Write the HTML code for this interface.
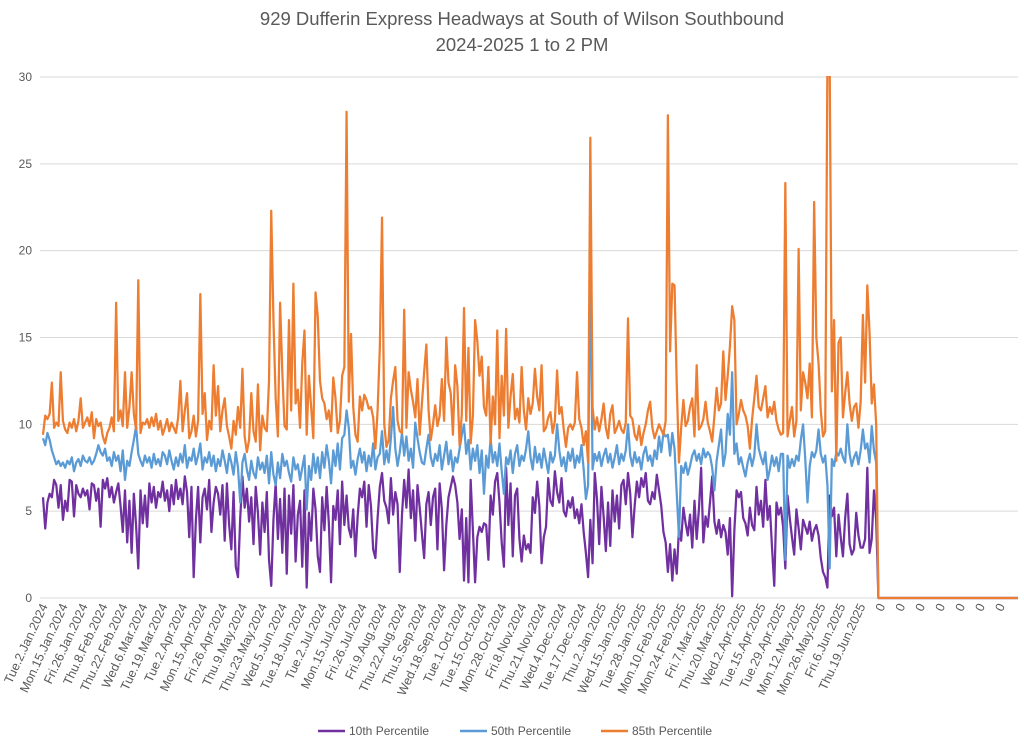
<!DOCTYPE html>
<html><head><meta charset="utf-8"><title>929 Dufferin Express Headways</title>
<style>
html,body{margin:0;padding:0;background:#fff;}
svg{display:block;font-family:"Liberation Sans",sans-serif;}
</style></head>
<body>
<svg id="chart" width="1024" height="746" viewBox="0 0 1024 746">
<text x="522" y="25" text-anchor="middle" font-size="18.5" fill="#595959">929 Dufferin Express Headways at South of Wilson Southbound</text>
<text x="522" y="51" text-anchor="middle" font-size="18.5" fill="#595959">2024-2025 1 to 2 PM</text>
<defs><clipPath id="plotclip"><rect x="40" y="76" width="985" height="530"/></clipPath></defs>
<g id="grid"></g>
<g id="yaxis"></g>
<g id="xaxis"></g>
<g id="series" clip-path="url(#plotclip)"></g>
<g>
  <g><line x1="318" y1="731" x2="345" y2="731" stroke="#7030a0" stroke-width="2.5"/><text x="349" y="735" font-size="12" fill="#595959">10th Percentile</text></g>
  <g><line x1="460" y1="731" x2="487" y2="731" stroke="#5b9bd5" stroke-width="2.5"/><text x="491" y="735" font-size="12" fill="#595959">50th Percentile</text></g>
  <g><line x1="601" y1="731" x2="628" y2="731" stroke="#ed7d31" stroke-width="2.5"/><text x="632" y="735" font-size="12" fill="#595959">85th Percentile</text></g>
</g>
</svg>
<script>
const tickLabels = ["Tue.2.Jan.2024","Mon.15.Jan.2024","Fri.26.Jan.2024","Thu.8.Feb.2024","Thu.22.Feb.2024","Wed.6.Mar.2024","Tue.19.Mar.2024","Tue.2.Apr.2024","Mon.15.Apr.2024","Fri.26.Apr.2024","Thu.9.May.2024","Thu.23.May.2024","Wed.5.Jun.2024","Tue.18.Jun.2024","Tue.2.Jul.2024","Mon.15.Jul.2024","Fri.26.Jul.2024","Fri.9.Aug.2024","Thu.22.Aug.2024","Thu.5.Sep.2024","Wed.18.Sep.2024","Tue.1.Oct.2024","Tue.15.Oct.2024","Mon.28.Oct.2024","Fri.8.Nov.2024","Thu.21.Nov.2024","Wed.4.Dec.2024","Tue.17.Dec.2024","Thu.2.Jan.2025","Wed.15.Jan.2025","Tue.28.Jan.2025","Mon.10.Feb.2025","Mon.24.Feb.2025","Fri.7.Mar.2025","Thu.20.Mar.2025","Wed.2.Apr.2025","Tue.15.Apr.2025","Tue.29.Apr.2025","Mon.12.May.2025","Mon.26.May.2025","Fri.6.Jun.2025","Thu.19.Jun.2025","0","0","0","0","0","0","0"];
const yTicks = [0,5,10,15,20,25,30];
const tailZeros = [0,0,0,0,0,0,0,0,0,0,0,0,0,0,0,0,0,0,0,0,0,0,0,0,0,0,0,0,0,0,0,0,0,0,0,0,0,0,0,0,0,0,0,0,0,0,0,0,0,0,0,0,0,0,0,0,0,0,0,0,0,0,0,0];
const p85Days = [
9.4,10.5,10.3,10.6,12.4,9.8,10.1,9.9,13,10.2,
9.7,9.5,10.1,9.8,10.3,9.6,10.2,11.5,9.8,10.1,
10.4,9.9,10.7,9.2,10.3,9.9,10.1,9.3,8.9,9.5,
9.8,10.4,9.6,17,10.2,10.8,9.9,13,9.8,11,
13,10.6,9.7,18.3,9.5,10.1,10,10.3,9.8,10.4,
9.9,10.6,9.7,10.2,9.4,9.8,10.3,9.6,10.1,9.8,
9.5,10.4,12.5,9.6,10.8,11.8,9.2,9.6,10.5,9.3,
10.2,17.5,10.6,11.8,9.1,10.2,9.7,13.4,10.5,12.2,
9.6,10.8,11.5,9.9,9.3,8.6,10.2,9.4,11,9.8,
13.2,9.3,8.4,9.1,11.8,9.6,9,12.3,8.5,10.5,
9.8,9.6,12.5,22.3,16,11.5,9.3,17,13,9.9,
9.7,16,10.8,18.1,11.2,12,9.8,13.5,15.4,9.4,
12.8,11,9.2,17.6,16.2,12.5,11.5,11.2,10.3,10.8,
9.6,12.7,11.5,9.5,10.2,12.8,13.3,28,11.3,15.2,
11,9.4,9,11.6,10.8,11.7,11.4,10.9,11,10.4,
8.6,10.8,14.4,21.9,10,8.7,9.1,11.5,12.5,13.3,
10.2,9.6,9.5,16.6,9.8,13,12,11.3,10.4,12.6,
9.4,11.2,13,14.6,10.8,9.1,10,11.1,9.9,10.5,
12.6,10.2,15,12.4,11.8,9.4,13.4,12.2,8.8,10.6,
16.7,10.2,14.4,8.9,10.5,16,14.8,12.8,13.9,11,
10.5,13.3,8.9,11.6,10,15.4,9.2,12.8,10.5,15.5,
9.8,11.6,12.9,10.3,10.9,10.1,13.3,10.8,9.7,11.5,
10.6,11.2,13.2,11.6,10.8,13.4,9.6,9.8,10.4,10.7,
9.5,10.2,13.1,10.6,11,9.7,8.7,9.8,10,9.7,
10.1,13,10.3,9.8,8.8,9.6,7.8,26.5,11,9.7,
10.4,9.6,10.3,11.2,9.8,9.2,10.6,11.1,9.5,9.8,
10.2,9.7,9.5,10.1,16.1,10.5,10.3,9.4,9.1,9.9,
8.8,9.5,10,10.8,11.3,9.8,9.2,9.6,10,9.7,
9.4,10.2,27.8,14.2,18.1,18,12.3,7.8,9.8,11.4,
9.9,10.2,11,11.5,9.3,13.4,9.7,9.9,10.3,11.3,
10.1,9.6,9,10.5,12.1,10.8,11.2,14.2,11.4,12.8,
14.5,16.8,16,10,10.6,11.4,10.8,10.5,9.9,8.6,
10.3,11.5,12.8,11,10.8,11.5,12.2,10.4,11,10.6,
11.3,10.2,9.7,9.4,9.5,23.9,9.3,10.2,11,9.3,
10.2,20.1,10.8,13,12.4,11.5,13.5,10.4,22.8,15,
13.5,10.8,9.3,9.6,31,31,11.9,16,7.9,14.7,
15,10.4,11.8,13,11.2,10.2,11,11.2,9.8,11.3,
16.3,12.4,18,15.3,11.2,12.3,10];
const p50Days = [
9.2,8.8,9.5,9.1,8.5,8.1,7.7,7.9,7.6,7.8,
7.5,7.9,7.7,8.1,7.3,7.8,8,7.6,8.2,7.9,
7.8,8.1,7.7,7.9,8.3,8.8,8.4,8.2,8.6,7.9,
8.1,7.6,8.4,7.9,8.2,7.3,8.5,6.8,7.9,7.6,
8.4,9.1,9.9,8.3,7.9,7.6,8.2,7.8,8.1,7.5,
8.3,7.7,8,7.6,8.4,8.2,7.7,8.5,7.9,7.4,
8.1,7.6,8.3,7.8,8.8,7.5,8.1,7.9,8.6,7.7,
8.2,8.9,7.4,8.1,7.8,8.4,7.6,8.2,7.3,8,
7.6,8.5,7.9,7.2,8.3,7.8,7.1,8.4,7.5,5.5,
7.8,8.3,7.4,6.8,7.9,7.2,6.9,8.1,7.4,7.8,
7.2,8.2,6.6,8.4,7.1,6.5,7.8,6.9,8.3,7.6,
7.9,7.2,6.7,8.1,7.4,7.7,6.8,7.5,8.2,5.1,
7.6,6.8,8.3,7.2,8.1,6.9,8.4,7.5,8.8,7.9,
6.6,8.5,7.6,8.9,7.4,9.2,9.4,10.8,9.8,7.5,
7.9,7.1,8,8.6,7.8,8.4,7.3,8.2,7.6,8.9,
7.4,8.1,8.3,9.6,7.7,8.5,7.8,9.2,11,8.6,
7.6,8.4,9.5,8.2,9.3,7.9,8.6,7.5,10.1,9.2,
8.4,7.8,7.7,8.6,9.4,8.1,7.6,8.3,7.9,8.8,
7.4,8.2,9,7.7,8.5,7.3,8.1,7.8,8.6,9.4,
10,8.3,9.1,7.4,8.6,7.9,8.8,7.2,8.5,6,
8.2,7.5,9.2,7.8,8.4,7.6,8.9,7.3,6,8.1,
7.7,8.5,7.2,8.3,8.8,7.6,8.2,7.9,8.6,9.6,
8.1,7.4,8.7,7.8,8.3,7.5,8.6,7.9,7.2,8.4,
7.8,8.2,10,8.5,7.6,8.1,7.3,8.4,7.9,8.6,
7.5,8.2,7.8,8.8,7.4,5.7,6.5,20,7.4,8.3,
7.9,8.4,7.6,8.2,8.6,7.8,8.3,7.5,8.1,8.8,
7.7,8.3,7.9,8.5,10,8.2,7.6,8.4,7.8,8.1,
7.4,8.3,8.7,7.9,8.2,7.6,8.5,8,9.3,8.4,
9.5,9.3,9.4,8.2,9.5,8.6,6,3.5,7.6,7.2,
7.8,7.1,7.6,8.2,8.5,7.9,8.3,7.7,8.6,8.1,
8.4,8.2,7.5,6.2,7.9,8.8,9.7,7.6,8.3,10.6,
9.4,13,8.3,8.9,7.7,8.1,7.5,7,7.8,8.3,
7.6,8.2,10,8.6,8.1,7.7,8.4,6.8,7.4,8.2,
7.6,8.1,7.3,8.3,8.3,2.2,8.2,7.5,8,7.6,
8.2,7.9,9.1,10,8,5.5,7.6,8.4,8.1,8.5,
9.7,8.3,7.8,8.2,6.5,1.7,8,7.6,8.4,8.2,
8.6,8.1,7.8,10,8.3,7.6,8.1,8.4,7.7,8.5,
9.7,8.6,8.9,7.8,9.9,8.5,7.8];
const p10Days = [
5.8,4,5.5,6,5.8,6.8,6.5,5.2,6.5,4.5,
5.6,5,6.8,6.7,4.7,6.5,6,5.8,6.3,5.9,
6.2,5.1,6.6,6.5,5.6,6.3,4.1,6.8,6.3,6.9,
5.8,6.4,5.5,6.1,6.6,5.3,3.8,6.2,3.2,5.6,
2.6,6,4.2,1.7,6.2,4.3,5.9,4.1,6.6,5.5,
6.4,5.2,6.1,5.8,6.7,5.6,6.2,5,6.5,5.4,
6.8,5.7,6.3,5.4,7,6.1,3.5,6.4,1.2,4.5,
6.4,3.2,5.8,6.3,5.1,6.8,3.8,5.5,6.4,6,
4.8,6.5,3.3,6.6,4.2,2.8,6.1,1.8,1.2,4.6,
7,5.2,6.3,4.4,5.8,3.1,6.4,4.9,2.5,5.5,
3.8,6.1,2.2,0.7,4.5,6.6,3.4,5.7,2.6,6.3,
1.4,5.9,3.7,6.5,2.1,4.8,5.6,1.8,6.2,0.6,
4.9,3.3,6.3,5.1,2.4,1.5,5.8,3.9,6.4,4.3,
0.9,5.3,4.5,6.2,3.1,6.7,4.2,5.9,4,3.5,
5.1,2.4,4.7,6.3,5.8,6.7,4.1,6.5,5.3,2.8,
2.3,4.6,6.4,7.2,5.6,5.2,4.3,6.9,4.8,6.1,
5.4,1.5,4.8,6.8,5.2,7.4,4.6,6.2,3.3,6.5,
5.2,3.7,2.3,5.4,6.1,4.2,5.8,6.3,2.8,6.6,
5.1,1.6,4.2,5.8,6.4,7,6.5,5.5,3.4,5.1,
1,4.6,0.9,6.8,3.9,0.9,3.5,4.1,3.8,4.3,
4.2,2.2,5.9,4.8,6.7,7.2,5.5,3.2,1.8,7.5,
4.2,6.6,2.4,5.9,6.3,3.4,2.1,3.6,2.8,3.1,
2.6,5.8,4.9,6.7,5.3,2,3.5,4.1,6.9,5.6,
5.3,7.3,6.1,5.5,6.9,5,4.7,5.6,5.2,5.8,
4.6,5.1,4.3,5.4,3.8,2.6,1.2,4.5,2,7.2,
5.7,3.1,6.4,4.7,2.7,5.5,3,6.2,4.4,5.9,
4,6.5,6.8,5.4,7.2,6,3.5,5.3,6.7,5.8,
6.9,6.4,7.2,5.6,5.4,6.1,5.7,7.1,6.2,5.3,
3.8,3.2,1.5,3.1,1,2.8,1.4,4,3.3,5.2,
4.3,3.6,4.8,2.9,5.6,3.4,5.1,7.5,3.2,4.7,
4.1,5.5,7,4.4,3.7,4.5,3.5,4.2,3.8,2.5,
4.6,0.1,3.9,6.2,5.8,6.1,4.6,4.3,3.6,5.2,
4.2,3.9,6.4,4.8,5.6,4.1,6.8,4.5,5.3,2.9,
0.7,5.5,4.8,5.2,4.1,1.7,5.9,4.6,3.5,2.5,
5.1,4,2.8,4.5,4.1,3.7,4.4,3.3,3.9,4.2,
3.6,2.3,1.5,1.2,0.6,5.9,4.7,5.2,2.4,4.8,
3.5,2.4,4.6,6,3.1,2.5,2.8,4.9,3.6,2.9,
2.9,3.4,7.5,2.6,3.4,6.2,4.5];
const p10 = p10Days.concat(tailZeros);
const p50 = p50Days.concat(tailZeros);
const p85 = p85Days.concat(tailZeros);
const labelEvery = 9;

const NS = "http://www.w3.org/2000/svg";
const X0 = 43, X1 = 1018, Y0 = 598, Y1 = 77, YMAX = 30;
const N = p85.length;
function xPos(i){ return X0 + (X1 - X0) * i / (N - 1); }
function yPos(v){ return Y0 - (Y0 - Y1) * v / YMAX; }
function mk(tag, attrs){ const e = document.createElementNS(NS, tag); for (const k in attrs) e.setAttribute(k, attrs[k]); return e; }

const grid = document.getElementById('grid');
const yaxis = document.getElementById('yaxis');
yTicks.forEach(function(t){
  const ln = mk('line', {x1: 40, x2: 1018, y1: yPos(t), y2: yPos(t), stroke: '#d9d9d9', 'stroke-width': 1});
  
  
  grid.appendChild(ln);
  const tx = mk('text', {x: 32, y: yPos(t) + 4, 'text-anchor': 'end', 'font-size': 12, fill: '#595959'});
  tx.textContent = t;
  
  
  yaxis.appendChild(tx);
});

const xaxis = document.getElementById('xaxis');
tickLabels.forEach(function(lab, k){
  const x = xPos(k * labelEvery) + 5;
  const tx = mk('text', {x: x, y: 606, 'text-anchor': 'end', 'font-size': 12.5, fill: '#595959', transform: 'rotate(-65 ' + x + ' 606)'});
  tx.textContent = lab;
  
  
  xaxis.appendChild(tx);
});

const series = document.getElementById('series');
function drawLine(vals, color, name){
  let d = '';
  vals.forEach(function(v, i){ d += (i ? 'L' : 'M') + xPos(i).toFixed(2) + ' ' + yPos(v).toFixed(2); });
  const p = mk('path', {d: d, fill: 'none', stroke: color, 'stroke-width': 2.25, 'stroke-linejoin': 'round'});
  
  
  series.appendChild(p);
}
drawLine(p10, '#7030a0', 'line-10th-percentile');
drawLine(p50, '#5b9bd5', 'line-50th-percentile');
drawLine(p85, '#ed7d31', 'line-85th-percentile');
</script>
</body></html>
